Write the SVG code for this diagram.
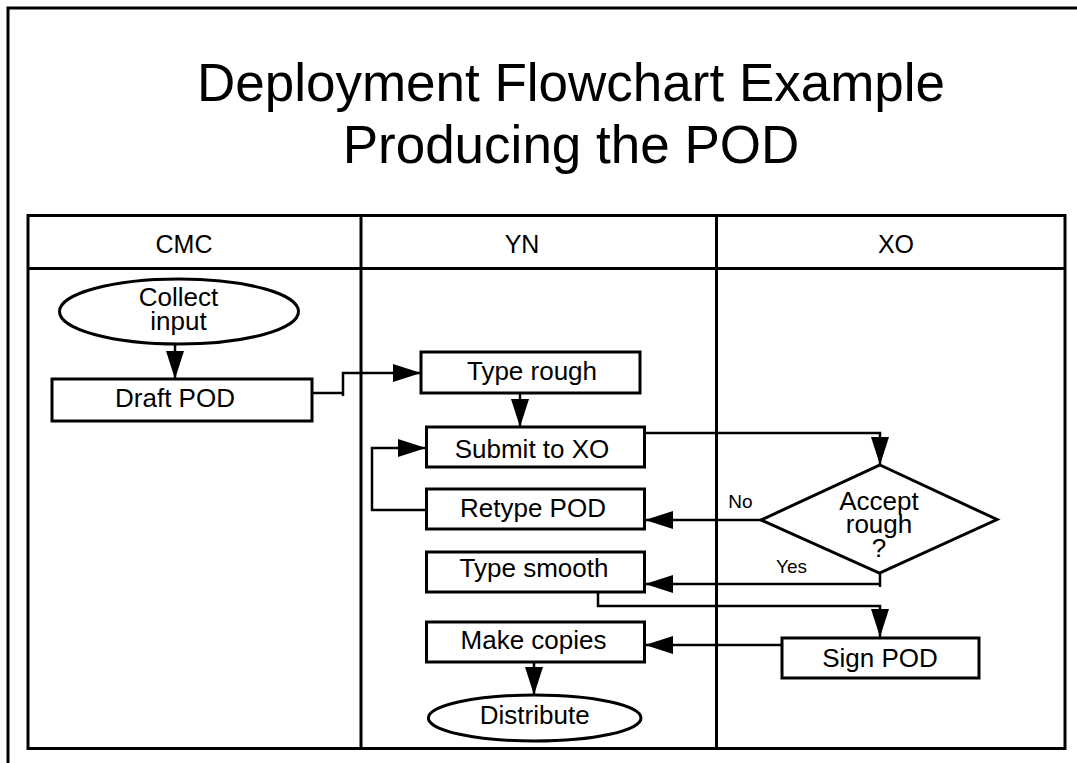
<svg xmlns="http://www.w3.org/2000/svg" width="1077" height="763" viewBox="0 0 1077 763">
<defs>
<style>
text{font-family:"Liberation Sans",Arial,sans-serif;fill:#000;text-anchor:middle}
.title{font-size:53px}
.hdr{font-size:25px}
.lbl{font-size:26px}
.small{font-size:19px}
.shape{fill:#fff;stroke:#000;stroke-width:3}
.frame{fill:none;stroke:#000;stroke-width:3}
.conn path{fill:none;stroke:#000;stroke-width:2.5}
</style>
<marker id="ah" markerUnits="userSpaceOnUse" markerWidth="28" markerHeight="18" refX="28" refY="9" orient="auto" viewBox="0 0 28 18">
<path d="M0,0 L28,9 L0,18 z" fill="#000"/>
</marker>
</defs>
<rect width="1077" height="763" fill="#fff"/>
<path d="M8,770 V8 H1085" class="frame"/>
<g id="title">
<text class="title" x="571" y="101">Deployment Flowchart Example</text>
<text class="title" x="571" y="163">Producing the POD</text>
</g>
<g id="lanes">
<rect x="28" y="215.5" width="1037" height="533" class="frame"/>
<line x1="28" y1="268.5" x2="1065" y2="268.5" stroke="#000" stroke-width="3"/>
<line x1="361" y1="215.5" x2="361" y2="748.5" stroke="#000" stroke-width="3"/>
<line x1="716.5" y1="215.5" x2="716.5" y2="748.5" stroke="#000" stroke-width="3"/>
<text class="hdr" x="184" y="252.5">CMC</text>
<text class="hdr" x="522" y="252.5">YN</text>
<text class="hdr" x="896" y="252.5">XO</text>
</g>
<g class="conn" id="connectors">
<path d="M175,344 V379" marker-end="url(#ah)"/>
<path d="M309,393 H343 M343,396 V373 H421" marker-end="url(#ah)"/>
<path d="M520,393 V427" marker-end="url(#ah)"/>
<path d="M644,433 H880 V465" marker-end="url(#ah)"/>
<path d="M761,520 H645" marker-end="url(#ah)"/>
<path d="M427,510 H372 V448 H426" marker-end="url(#ah)"/>
<path d="M880,573 V587 M880,584 H645" marker-end="url(#ah)"/>
<path d="M598,592 V606 H880 V637" marker-end="url(#ah)"/>
<path d="M782,645 H645" marker-end="url(#ah)"/>
<path d="M534,662 V695" marker-end="url(#ah)"/>
</g>
<g id="collect-input">
<ellipse cx="179" cy="311.5" rx="119.5" ry="32.5" class="shape"/>
<text class="lbl" x="178.5" y="306">Collect</text>
<text class="lbl" x="178.5" y="330">input</text>
</g>
<g id="draft-pod">
<rect x="52" y="379" width="260" height="42" class="shape"/>
<text class="lbl" x="175" y="407">Draft POD</text>
</g>
<g id="type-rough">
<rect x="421" y="352" width="219" height="41" class="shape"/>
<text class="lbl" x="532" y="380">Type rough</text>
</g>
<g id="submit-xo">
<rect x="426.5" y="427" width="218" height="40" class="shape"/>
<text class="lbl" x="532" y="458">Submit to XO</text>
</g>
<g id="retype-pod">
<rect x="426.5" y="489" width="218" height="40" class="shape"/>
<text class="lbl" x="533" y="517">Retype POD</text>
</g>
<g id="type-smooth">
<rect x="426.5" y="552" width="218" height="40" class="shape"/>
<text class="lbl" x="534" y="577">Type smooth</text>
</g>
<g id="make-copies">
<rect x="426.5" y="622" width="218" height="40" class="shape"/>
<text class="lbl" x="533.5" y="649">Make copies</text>
</g>
<g id="distribute">
<ellipse cx="534.7" cy="718" rx="106.3" ry="23" class="shape"/>
<text class="lbl" x="534.7" y="724">Distribute</text>
</g>
<g id="accept-rough">
<polygon points="880,465 997,519.5 879.5,573 761,520" class="shape"/>
<text class="lbl" x="879" y="510">Accept</text>
<text class="lbl" x="879" y="533">rough</text>
<text class="lbl" x="879" y="557">?</text>
</g>
<g id="sign-pod">
<rect x="782" y="638" width="197" height="40" class="shape"/>
<text class="lbl" x="880" y="667">Sign POD</text>
</g>
<g id="edge-labels">
<text class="small" x="740.5" y="508">No</text>
<text class="small" x="791.5" y="573">Yes</text>
</g>
</svg>
